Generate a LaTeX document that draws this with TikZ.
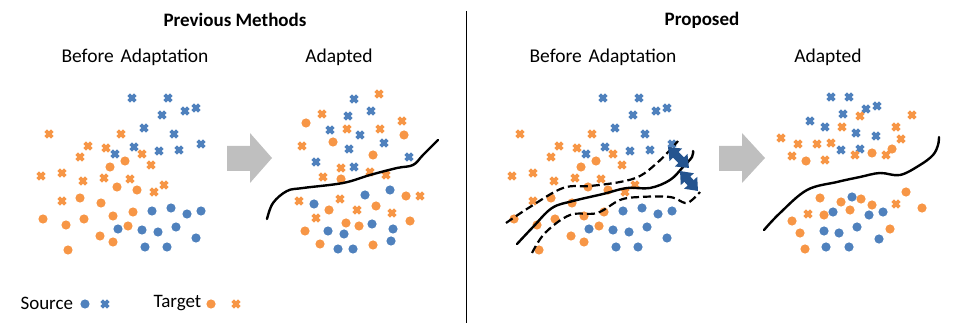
\documentclass[tikz,border=0pt]{standalone}
\usepackage{fontspec}
\setmainfont{Carlito}
\usetikzlibrary{arrows.meta}
\definecolor{srcblue}{HTML}{4F81BD}
\definecolor{tgtorange}{HTML}{F79646}
\definecolor{darrow}{HTML}{24548F}
\definecolor{garrow}{HTML}{BFBFBF}
\tikzset{
  crossmark/.style={draw=#1, line width=3.8pt},
  bnd/.style={line width=2.4pt, black, line cap=round},
  dbnd/.style={line width=2.2pt, black, dash pattern=on 8pt off 4pt},
  title/.style={font=\bfseries\fontsize{19}{21}\selectfont},
  sub/.style={font=\fontsize{19.5}{21}\selectfont},
  leg/.style={font=\fontsize{19}{21}\selectfont},
  dblarrow/.style={line width=8pt, darrow, {Triangle[length=11pt,width=17pt]}-{Triangle[length=11pt,width=17pt]}},
}
\newcommand\bx[2]{\draw[crossmark=srcblue] (#1-3.3,#2-3.3)--(#1+3.3,#2+3.3) (#1-3.3,#2+3.3)--(#1+3.3,#2-3.3);}
\newcommand\ox[2]{\draw[crossmark=tgtorange] (#1-3.3,#2-3.3)--(#1+3.3,#2+3.3) (#1-3.3,#2+3.3)--(#1+3.3,#2-3.3);}
\newcommand\bo[2]{\fill[srcblue] (#1,#2) circle (4.6);}
\newcommand\oo[2]{\fill[tgtorange] (#1,#2) circle (4.6);}
\newcommand\panelA[1]{%
  \foreach \x/\y in {132/98,168/98,162/115,185/111,196/108,144/128,174/134,201/144,134/147,115/154,159/151,179/150}{\bx{\x+#1}{\y}}
  \foreach \x/\y in {49/134,121/134,88/146,80/157,106/148,142/154,151/165,41/176,62/173,83/181,104/178,130/179,164/185,154/192,62/201}{\ox{\x+#1}{\y}}
  \foreach \x/\y in {125/161,110/167,117/187,137/190,80/198,101/203,43/219,66/225,84/219,113/216,133/212,128/226,100/236,113/242,68/250}{\oo{\x+#1}{\y}}
  \foreach \x/\y in {152/211,171/208,187/214,201/211,118/229,142/230,158/232,176/227,196/238,145/247,167/247}{\bo{\x+#1}{\y}}
}
\begin{document}
\begin{tikzpicture}[x=1pt,y=-1pt]
\useasboundingbox (0,0) rectangle (960,336);
% titles
\node[title] (t1) at (235,20) {Previous Methods};
\node[title] (t2) at (702,20) {Proposed};
\node[sub] (s1) at (135,57) {Before\hspace{0.12em} Adaptation};
\node[sub] (s2) at (339,57) {Adapted};
\node[sub] (s3) at (603,57) {Before\hspace{0.12em} Adaptation};
\node[sub] (s4) at (828,57) {Adapted};
% divider
\coordinate (dtop) at (466.3,11);
\coordinate (dbot) at (466.3,323);
\draw[line width=1pt, black] (dtop) -- (dbot);
% grey arrows
\fill[garrow] (227,146) -- (250,146) -- (250,133) -- (272,158) -- (250,183) -- (250,171) -- (227,171) -- cycle;
\fill[garrow] (719,146) -- (742,146) -- (742,133) -- (765,158) -- (742,183) -- (742,171) -- (719,171) -- cycle;
% panel 1
\panelA{0}
% panel 3
\panelA{471}
% panel 3 boundaries
\draw[bnd] plot[smooth, tension=0.6] coordinates {(517,244) (533,227) (552,208) (573,201) (603,194) (627,188) (650,188) (670,180) (683,167) (692,157) (693,151)};
\draw[dbnd] plot[smooth, tension=0.6] coordinates {(506,223) (530,207) (563,188) (590,186) (620,182) (640,176) (657,163) (670,150) (678,141)};
\draw[dbnd] plot[smooth, tension=0.6] coordinates {(532,253) (545,233) (570,215) (597,213) (620,200) (640,197) (670,197) (685,203) (692,200) (700,192)};
\coordinate (a1s) at (668,147);
\coordinate (a1e) at (689,168);
\coordinate (a2s) at (680,171);
\coordinate (a2e) at (698,191);
\draw[dblarrow] (a1s) -- (a1e);
\draw[dblarrow] (a2s) -- (a2e);
% panel 2
\foreach \x/\y in {354/99,348/116,371/111,330/130,360/135,384/143,349/149,316/162,354/167,409/157}{\bx{\x}{\y}}
\foreach \x/\y in {379/94,322/114,402/121,347/129,380/129,302/146,341/168,370/172,386/175,323/177,299/201,340/199,357/210,392/213,316/218,420/196}{\ox{\x}{\y}}
\foreach \x/\y in {306/123,404/135,333/142,373/155,341/179,406/196,329/210,376/206,346/223,359/226,410/221,305/231,320/244,373/245}{\oo{\x}{\y}}
\foreach \x/\y in {390/190,365/195,314/204,372/224,328/231,344/234,393/229,391/241,338/249,353/249}{\bo{\x}{\y}}
\draw[bnd] plot[smooth, tension=0.6] coordinates {(267,219) (273,203) (287,191) (303,188) (343,183) (370,175) (397,168) (413,165) (423,155) (438,140)};
% panel 4
\foreach \x/\y in {831/97,849/97,866/109,877/106,843/114,810/121,825/127,856/133,876/136,841/150,860/149}{\bx{\x}{\y}}
\foreach \x/\y in {860/116,912/115,842/127,896/127,781/138,798/144,817/144,831/143,901/139,792/156,825/160,855/155,886/155,808/214,896/204}{\ox{\x}{\y}}
\foreach \x/\y in {806/161,872/153,892/149,820/198,841/202,861/199,872/205,906/192,850/210,824/215,792/221,800/233,890/229,922/208,805/249}{\oo{\x}{\y}}
\foreach \x/\y in {852/197,833/212,869/215,883/212,824/231,839/233,857/227,879/239,826/247,849/247}{\bo{\x}{\y}}
\draw[bnd] plot[smooth, tension=0.6] coordinates {(764,230) (780,213) (807,190) (837,182) (860,177) (880,173) (900,175) (920,165) (933,155) (938,145) (939,137)};
% legend
\node[leg, anchor=west] (ls) at (17,303) {Source};
\node[leg, anchor=west] (lt) at (150,303) {Target};
\bo{85}{304}
\bx{105}{304}
\oo{211}{304}
\ox{236}{304}
\end{tikzpicture}
\end{document}
